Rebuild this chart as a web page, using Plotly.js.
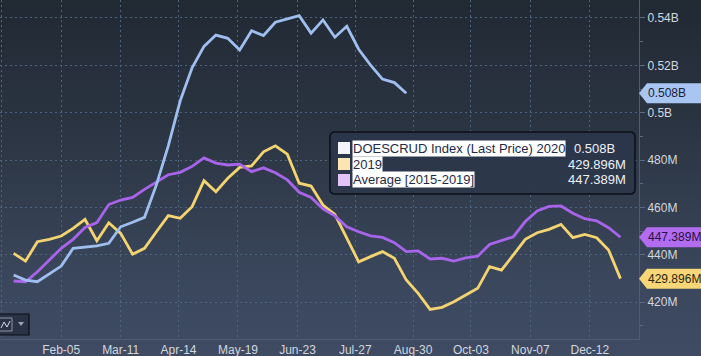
<!DOCTYPE html>
<html>
<head>
<meta charset="utf-8">
<script src="https://cdn.plot.ly/plotly-3.0.1.min.js"></script>
<style>
  html, body { margin: 0; padding: 0; }
  body { width: 701px; height: 356px; overflow: hidden;
         background: linear-gradient(to bottom, #212933 0%, #2c3644 40%, #3b475d 80%, #3f4b63 100%); }
  #chart { width: 701px; height: 356px; }
</style>
</head>
<body>
<div id="chart"></div>
<script>
// Weekly dates (Wednesdays) on a common 2020 calendar
const weekDates = [
  '2020-01-08','2020-01-15','2020-01-22','2020-01-29',
  '2020-02-05','2020-02-12','2020-02-19','2020-02-26',
  '2020-03-04','2020-03-11','2020-03-18','2020-03-25',
  '2020-04-01','2020-04-08','2020-04-15','2020-04-22','2020-04-29',
  '2020-05-06','2020-05-13','2020-05-20','2020-05-27',
  '2020-06-03','2020-06-10','2020-06-17','2020-06-24',
  '2020-07-01','2020-07-08','2020-07-15','2020-07-22','2020-07-29',
  '2020-08-05','2020-08-12','2020-08-19','2020-08-26',
  '2020-09-02','2020-09-09','2020-09-16','2020-09-23','2020-09-30',
  '2020-10-07','2020-10-14','2020-10-21','2020-10-28',
  '2020-11-04','2020-11-11','2020-11-18','2020-11-25',
  '2020-12-02','2020-12-09','2020-12-16','2020-12-23','2020-12-30'
];

// US crude inventories, millions of barrels
const stocks2020 = [
  431.4, 429.3, 428.6, 431.8, 435.2, 442.7, 443.1, 443.7, 444.8, 451.8,
  453.7, 455.8, 469.5, 486.0, 505.0, 519.0, 528.0, 532.8, 531.4, 526.5,
  534.6, 532.6, 538.2, 539.6, 541.0, 533.6, 539.2, 531.9, 536.5, 526.8,
  520.1, 514.2, 512.7, 508.2
];
const stocks2019 = [
  440.6, 437.3, 445.5, 446.5, 447.9, 451.1, 454.9, 445.9, 453.5, 449.0,
  440.2, 442.7, 449.7, 456.5, 455.4, 460.3, 471.3, 466.6, 472.3, 476.9,
  477.5, 483.5, 486.0, 482.5, 470.2, 469.0, 461.0, 457.0, 447.0, 437.0,
  439.2, 441.3, 438.5, 429.3, 423.7, 416.9, 417.8, 420.1, 423.0, 425.8,
  435.0, 433.5, 439.9, 446.5, 449.3, 450.7, 452.8, 447.2, 448.6, 447.2,
  442.0, 429.896
];
const avg2015to2019 = [
  428.9, 428.6, 432.8, 437.8, 442.7, 446.5, 451.5, 453.6, 461.2, 463.1,
  464.2, 467.6, 470.6, 473.8, 474.8, 477.3, 480.9, 478.7, 477.9, 478.3,
  475.1, 476.7, 474.6, 471.6, 466.4, 464.2, 459.4, 456.4, 451.8, 449.7,
  448.0, 447.3, 445.1, 441.3, 441.6, 438.2, 438.5, 437.3, 438.7, 439.4,
  444.3, 446.0, 447.6, 454.0, 458.5, 460.4, 460.6, 457.5, 455.2, 454.3,
  451.4, 447.389
];

const seriesNames = ['DOESCRUD Index (Last Price) 2020', '2019', 'Average [2015-2019]'];

const xTickVals = ['2020-01-01','2020-02-05','2020-03-11','2020-04-14','2020-05-19','2020-06-23',
                   '2020-07-27','2020-08-30','2020-10-03','2020-11-07','2020-12-12'];
const xTickText = ['','Feb-05','Mar-11','Apr-14','May-19','Jun-23','Jul-27','Aug-30','Oct-03','Nov-07','Dec-12'];

const yTickVals = [420, 440, 460, 480, 500, 520, 540];
const yTickText = ['420M', '440M', '460M', '480M', '0.5B', '0.52B', '0.54B'];

// ---- styling / layout ----
const C_BLUE = '#9fbff0', C_YEL = '#f4d470', C_PUR = '#a864ea';
const W = 639, H = 339;             // plot area in pixels
const px = v => v / W;              // pixel -> paper x
const py = v => (H - v) / H;        // pixel -> paper y
const YR = [404.4, 547.6];
const pxPerUnit = H / (YR[1] - YR[0]);
const fmt = v => v >= 500 ? (v / 1000).toFixed(3) + 'B' : v.toFixed(3) + 'M';

const last2020 = stocks2020[stocks2020.length - 1];
const last2019 = stocks2019[stocks2019.length - 1];
const lastAvg = avg2015to2019[avg2015to2019.length - 1];

const traces = [
  { x: weekDates, y: stocks2019, name: seriesNames[1], type: 'scatter', mode: 'lines',
    line: { color: C_YEL, width: 2.8 } },
  { x: weekDates, y: avg2015to2019, name: seriesNames[2], type: 'scatter', mode: 'lines',
    line: { color: C_PUR, width: 2.8 } },
  { x: weekDates.slice(0, stocks2020.length), y: stocks2020, name: seriesNames[0], type: 'scatter', mode: 'lines',
    line: { color: C_BLUE, width: 2.8 } }
];

const shapes = [];
const annotations = [];

// right-side value badges (arrow pointing left)
function badge(val, fill, txtColor) {
  const h = 10 / pxPerUnit;   // half height in data units
  const a = px(W), b = px(W + 8), r = px(701);
  shapes.push({ type: 'path', xref: 'paper', yref: 'y', layer: 'above',
    path: `M ${a} ${val} L ${b} ${val + h} L ${r} ${val + h} L ${r} ${val - h} L ${b} ${val - h} Z`,
    fillcolor: fill, line: { color: fill, width: 0 } });
  annotations.push({ xref: 'paper', yref: 'y', x: px(646), y: val, xanchor: 'left', yanchor: 'middle',
    text: fmt(val), showarrow: false, font: { family: 'Liberation Sans, Arial, sans-serif', size: 12, color: txtColor } });
}
badge(last2020, '#a9c6f3', '#17213a');
badge(lastAvg, '#b26cf0', '#2a0f45');
badge(last2019, '#f6d676', '#2d2410');

// legend box
const L = 330, T = 132, R = 635, B = 194, rr = 5;
shapes.push({ type: 'path', xref: 'paper', yref: 'paper', layer: 'above',
  path: `M ${px(L + rr)} ${py(T)} L ${px(R - rr)} ${py(T)} Q ${px(R)} ${py(T)} ${px(R)} ${py(T + rr)} ` +
        `L ${px(R)} ${py(B - rr)} Q ${px(R)} ${py(B)} ${px(R - rr)} ${py(B)} L ${px(L + rr)} ${py(B)} ` +
        `Q ${px(L)} ${py(B)} ${px(L)} ${py(B - rr)} L ${px(L)} ${py(T + rr)} Q ${px(L)} ${py(T)} ${px(L + rr)} ${py(T)} Z`,
  fillcolor: 'rgba(44,55,74,0.97)', line: { color: '#0b1017', width: 1.5 } });

const legendRows = [
  { name: seriesNames[0], sq: '#f3f5fb', val: fmt(last2020), cy: 148, valLeft: true },
  { name: seriesNames[1], sq: '#fde6b3', val: fmt(last2019), cy: 164, valLeft: false },
  { name: seriesNames[2], sq: '#e2c3f7', val: fmt(lastAvg), cy: 180, valLeft: false }
];
const lf = { family: 'Liberation Sans, Arial, sans-serif', size: 13 };
legendRows.forEach(r => {
  shapes.push({ type: 'rect', xref: 'paper', yref: 'paper', layer: 'above',
    x0: px(338), x1: px(350), y0: py(r.cy - 6), y1: py(r.cy + 6),
    fillcolor: r.sq, line: { width: 0 } });
  annotations.push({ xref: 'paper', yref: 'paper', x: px(352), y: py(r.cy), xanchor: 'left', yanchor: 'middle',
    text: r.name, showarrow: false, bgcolor: '#ffffff', borderpad: 0,
    font: Object.assign({ color: '#1e2b45' }, lf) });
  annotations.push({ xref: 'paper', yref: 'paper', x: r.valLeft ? px(572) : px(628), y: py(r.cy),
    xanchor: r.valLeft ? 'left' : 'right', yanchor: 'middle',
    text: r.val, showarrow: false, font: Object.assign({ color: '#eef1f6' }, lf) });
});

// small chart-type button at bottom-left
shapes.push({ type: 'rect', xref: 'paper', yref: 'paper', layer: 'above',
  x0: px(-1), x1: px(29), y0: py(335), y1: py(314), fillcolor: '#2a3345', line: { color: '#0a0e14', width: 1.2 } });
shapes.push({ type: 'rect', xref: 'paper', yref: 'paper', layer: 'above',
  x0: px(-1), x1: px(12), y0: py(331), y1: py(318), fillcolor: 'rgba(0,0,0,0)', line: { color: '#8e98a8', width: 1 } });
shapes.push({ type: 'path', xref: 'paper', yref: 'paper', layer: 'above',
  path: `M ${px(1)} ${py(328)} L ${px(4)} ${py(322)} L ${px(7)} ${py(327)} L ${px(10)} ${py(321)}`,
  line: { color: '#d8dde6', width: 1 } });
shapes.push({ type: 'path', xref: 'paper', yref: 'paper', layer: 'above',
  path: `M ${px(18)} ${py(322)} L ${px(24)} ${py(322)} L ${px(21)} ${py(326)} Z`,
  fillcolor: '#9aa4b4', line: { width: 0 } });

const layout = {
  width: 701, height: 356,
  margin: { l: 0, r: 62, t: 0, b: 17, pad: 0 },
  paper_bgcolor: 'rgba(0,0,0,0)',
  plot_bgcolor: 'rgba(0,0,0,0)',
  showlegend: false,
  font: { family: 'Liberation Sans, Arial, sans-serif', size: 12, color: '#d3d7df' },
  xaxis: {
    type: 'date',
    range: ['2019-12-31 00:00', '2021-01-09 21:36'],
    tickmode: 'array', tickvals: xTickVals, ticktext: xTickText,
    showgrid: true, gridcolor: '#4c6480', griddash: '2px,3px', gridwidth: 1,
    showline: true, linecolor: '#4f5d73', linewidth: 1,
    ticks: '', zeroline: false, fixedrange: true,
    tickfont: { size: 12, color: '#d3d7df' }
  },
  yaxis: {
    side: 'right', range: YR,
    tickmode: 'array', tickvals: yTickVals, ticktext: yTickText,
    showgrid: true, gridcolor: '#4c6480', griddash: '2px,3px', gridwidth: 1,
    showline: true, linecolor: '#4f5d73', linewidth: 1,
    ticks: 'outside', ticklen: 5, tickcolor: '#5b6a80', tickwidth: 1,
    minor: { dtick: 10, ticks: 'outside', ticklen: 3, tickcolor: '#5b6a80', showgrid: false },
    zeroline: false, fixedrange: true,
    tickfont: { size: 12, color: '#d3d7df' }
  },
  shapes: shapes,
  annotations: annotations
};

Plotly.newPlot('chart', traces, layout, { displayModeBar: false, staticPlot: true });
</script>
</body>
</html>
